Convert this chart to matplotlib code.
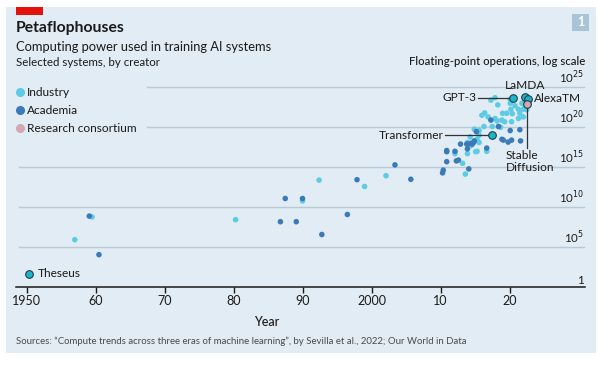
import matplotlib
matplotlib.use("Agg")
import matplotlib.pyplot as plt
import numpy as np
from matplotlib.lines import Line2D
from matplotlib.patches import Rectangle

# ---- data (year, log10 of training FLOP) ----
industry_year = [1957.0, 1959.5, 1980.3, 1990.0, 1992.4, 1999.0, 2002.1, 2013.2, 2013.6,
                 2013.9, 2015.1, 2015.6, 2016.7, 2012.1, 2013.9, 2014.3, 2014.4, 2015.3,
                 2015.3, 2015.6, 2015.6, 2014.9, 2016.3, 2017.5, 2018.7, 2016.0, 2016.4,
                 2016.9, 2017.9, 2018.2, 2018.9, 2019.3, 2020.3, 2021.3, 2022.0, 2019.0,
                 2019.6, 2020.4, 2021.5, 2020.2, 2021.3, 2022.0, 2022.5, 2017.3, 2018.3,
                 2020.1, 2020.1, 2020.8, 2021.8, 2022.3, 2017.9]
industry_flop = [5.85, 8.7, 8.35, 10.7, 13.3, 12.5, 13.85, 15.4, 14.05,
                 16.6, 16.85, 18.0, 16.9, 16.6, 18.0, 18.7, 17.6, 16.9,
                 18.4, 18.9, 19.5, 19.65, 20.0, 20.0, 19.9, 21.4, 21.7,
                 21.2, 21.0, 20.7, 20.8, 20.6, 20.6, 21.0, 21.2, 21.65,
                 21.65, 21.6, 21.65, 22.15, 22.15, 22.15, 22.1, 23.3, 22.7,
                 23.4, 22.9, 22.6, 22.9, 22.5, 23.6]

academia_year = [1959.1, 1960.5, 1986.8, 1987.5, 1989.1, 1990.0, 1992.8, 1996.5, 1997.9,
                 2003.4, 2005.7, 2010.3, 2010.4, 2010.9, 2010.9, 2012.3, 2012.6, 2014.1,
                 2012.9, 2013.9, 2014.0, 2014.6, 2014.8, 2016.7, 2019.1, 2021.6, 2018.4,
                 2020.1, 2021.5, 2018.9, 2017.3, 2015.2, 2014.9, 2014.4, 2013.8, 2012.1,
                 2010.9, 2020.3, 2019.8]
academia_flop = [8.8, 3.98, 8.1, 11.0, 8.1, 11.0, 6.5, 9.0, 13.35,
                 15.2, 13.4, 14.2, 14.55, 15.6, 16.85, 15.7, 15.8, 14.7,
                 17.8, 17.2, 17.8, 17.8, 18.0, 17.3, 18.3, 18.2, 20.0,
                 19.5, 19.6, 18.4, 20.8, 19.35, 18.2, 17.9, 17.8, 16.9,
                 17.0, 18.3, 18.05]

named_systems = ["Theseus", "Transformer", "GPT-3", "LaMDA", "AlexaTM", "Stable Diffusion"]
named_year = [1950.4, 2017.5, 2020.5, 2022.2, 2022.7, 2022.5]
named_flop = [1.6, 18.9, 23.6, 23.7, 23.5, 22.8]
named_group = ["Industry", "Industry", "Industry", "Industry", "Industry", "Research consortium"]

x_ticks = [1950, 1960, 1970, 1980, 1990, 2000, 2010, 2020]
x_ticklabels = ["1950", "60", "70", "80", "90", "2000", "10", "20"]
y_ticks = [0, 5, 10, 15, 20, 25]

# ---- style ----
plt.rcParams["font.family"] = ["Lato", "DejaVu Sans"]

BG = "#e1ecf4"
C_IND = "#5ccbe3"
C_ACA = "#3b7ab8"
C_RES = "#d3a7b2"
C_HI = "#1bb5c8"
GRID = "#b9c9d6"
DARK = "#1a1a1a"

W, H = 609, 367
fig = plt.figure(figsize=(W / 100, H / 100), dpi=100)
fig.patch.set_facecolor("white")


def fx(px):
    return px / W


def fy(py):
    return 1 - py / H


# panel + red tag + badge
fig.add_artist(Rectangle((fx(6), fy(353)), fx(596) - fx(6), fy(7) - fy(353),
                         transform=fig.transFigure, facecolor=BG, edgecolor="none", zorder=-10))
fig.add_artist(Rectangle((fx(16), fy(15)), fx(43) - fx(16), fy(7) - fy(15),
                         transform=fig.transFigure, facecolor="#e3120b", edgecolor="none"))
fig.add_artist(Rectangle((fx(572), fy(31)), fx(589) - fx(572), fy(14) - fy(31),
                         transform=fig.transFigure, facecolor="#a9c3d7", edgecolor="none"))
fig.text(fx(580.5), fy(22.5), "1", color="white", fontsize=9, fontweight="bold",
         ha="center", va="center")

fig.text(fx(16), fy(28), "Petaflophouses", fontsize=11.3, fontweight="bold", va="center", color=DARK)
fig.text(fx(16), fy(47), "Computing power used in training AI systems", fontsize=9.3,
         va="center", color=DARK)
fig.text(fx(16), fy(63), "Selected systems, by creator", fontsize=8.3, va="center", color=DARK)

# legend
for py, lab, col in [(92, "Industry", C_IND), (110, "Academia", C_ACA),
                     (128, "Research consortium", C_RES)]:
    fig.add_artist(Line2D([fx(20)], [fy(py)], marker="o", markersize=5.5, color=col,
                          linestyle="none", transform=fig.transFigure))
    fig.text(fx(27), fy(py), lab, fontsize=8.6, va="center", color=DARK)

fig.text(fx(16), fy(341), "Sources: \u201cCompute trends across three eras of machine learning\u201d, "
         "by Sevilla et al., 2022; Our World in Data", fontsize=6.9, va="center", color="#4a4a4a")

# ---- axes ----
x0, x1 = 1950 - 10.5 / 6.9, 1950 + (585 - 26.5) / 6.9
ax = fig.add_axes([fx(16), fy(286.5), fx(585) - fx(16), fy(78.5) - fy(286.5)])
ax.set_facecolor("none")
ax.set_xlim(x0, x1)
ax.set_yscale("log")
ax.set_ylim(1, 1e26)

for e in y_ticks[1:]:
    start = x0 + 3 / 6.9 if e <= 15 else 1950 + (147 - 26.5) / 6.9
    ax.plot([start, x1], [10.0 ** e, 10.0 ** e], color=GRID, lw=1, zorder=0)
    ax.annotate(f"10$^{{{e}}}$", (x1, 10.0 ** e), xytext=(-1, 0.5), textcoords="offset points",
                ha="right", va="bottom", fontsize=8.3, color=DARK)
ax.annotate("1", (x1, 1), xytext=(-1, 0.5), textcoords="offset points",
            ha="right", va="bottom", fontsize=8.5, color=DARK)

for s in ["top", "right", "left"]:
    ax.spines[s].set_visible(False)
ax.spines["bottom"].set_color(DARK)
ax.spines["bottom"].set_linewidth(1.1)
ax.set_yticks([])
ax.minorticks_off()
ax.set_xticks(x_ticks)
ax.set_xticklabels(x_ticklabels, fontsize=9, color=DARK)
ax.tick_params(axis="x", length=4, width=1, color=DARK, pad=2)
ax.set_xlabel("Year", fontsize=9, color=DARK, fontweight="medium")
ax.xaxis.set_label_coords((267 - 16) / (585 - 16), -0.14)
ax.text(x1, 10 ** 28.1, "Floating-point operations, log scale", ha="right", va="center",
        fontsize=8.2, color=DARK, fontweight="medium", clip_on=False)

ax.scatter(industry_year, 10.0 ** np.array(industry_flop), s=16, color=C_IND,
           edgecolor="none", zorder=3)
ax.scatter(academia_year, 10.0 ** np.array(academia_flop), s=16, color=C_ACA,
           edgecolor="none", zorder=3)

# annotation leader lines
LC = "#333333"
ny = dict(zip(named_systems, named_year))
nf = dict(zip(named_systems, named_flop))
ax.plot([2010.7, ny["Transformer"]], [10 ** nf["Transformer"]] * 2, color=LC, lw=0.9, zorder=4)
ax.plot([2015.5, ny["GPT-3"]], [10 ** nf["GPT-3"]] * 2, color=LC, lw=0.9, zorder=4)
ax.plot([ny["Stable Diffusion"]] * 2, [10 ** nf["Stable Diffusion"], 10 ** 17.3],
        color=LC, lw=0.9, zorder=4)

for name, yr, fl, grp in zip(named_systems, named_year, named_flop, named_group):
    face = C_RES if grp == "Research consortium" else C_HI
    ax.scatter([yr], [10.0 ** fl], s=30, color=face, edgecolor="#1d3d4c", linewidth=0.8,
               zorder=5, clip_on=False)

ax.text(1951.6, 10 ** 1.6, "Theseus", fontsize=8.6, va="center", color=DARK)
ax.text(2010.4, 10 ** 18.9, "Transformer", fontsize=8.6, va="center", ha="right", color=DARK)
ax.text(2015.2, 10 ** 23.6, "GPT-3", fontsize=8.6, va="center", ha="right", color=DARK)
ax.text(2022.2, 10 ** 25.1, "LaMDA", fontsize=8.6, va="center", ha="center", color=DARK,
        clip_on=False)
ax.text(2023.5, 10 ** 23.5, "AlexaTM", fontsize=8.6, va="center", ha="left", color=DARK)
ax.text(2019.5, 10 ** 17.1, "Stable\nDiffusion", fontsize=8.6, va="top", ha="left",
        color=DARK, linespacing=1.15)

fig.savefig("out.png", dpi=100)
